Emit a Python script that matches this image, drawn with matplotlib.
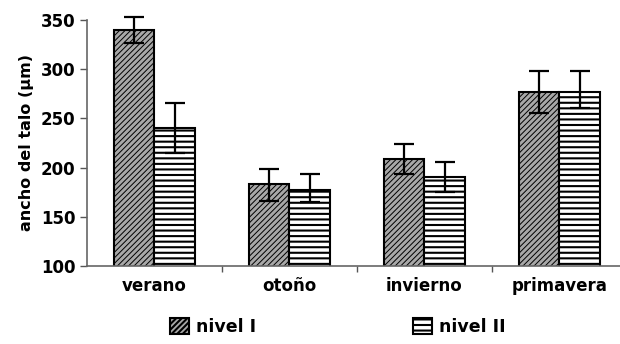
import numpy as np
import matplotlib.pyplot as plt

estaciones = ['verano', 'otoño', 'invierno', 'primavera']
nivel1 = [340, 183, 209, 277]
nivel1_sup = [353, 198, 224, 298]
nivel1_inf = [327, 166, 193, 255]
nivel2 = [240, 177, 190, 277]
nivel2_sup = [266, 193, 206, 298]
nivel2_inf = [215, 165, 175, 260]

x = np.arange(len(estaciones))
w = 0.3

fig = plt.figure(figsize=(6.2, 3.44), dpi=100)
ax = fig.add_axes([0.14, 0.227, 0.86, 0.715])

plt.rcParams['hatch.linewidth'] = 0.7
b1 = ax.bar(x - w/2, nivel1, w, color='#a8a8a8', edgecolor='black',
            linewidth=1.5, hatch='//////', label='nivel I', zorder=2)
plt.rcParams['hatch.linewidth'] = 1.5
b2 = ax.bar(x + w/2, nivel2, w, color='white', edgecolor='black',
            linewidth=1.5, hatch='---', label='nivel II', zorder=2)
for p in b1:
    if hasattr(p, 'set_hatch_linewidth'):
        p.set_hatch_linewidth(0.7)

for xs, v, lo, hi in [(x - w/2, nivel1, nivel1_inf, nivel1_sup),
                      (x + w/2, nivel2, nivel2_inf, nivel2_sup)]:
    v = np.array(v)
    err = [v - np.array(lo), np.array(hi) - v]
    eb = ax.errorbar(xs, v, yerr=err, fmt='none', ecolor='black', elinewidth=1.6,
                     capsize=7, capthick=1.6, zorder=3)
    for a in eb.lines[1] + eb.lines[2]:
        a.set_clip_on(False)

ax.set_ylim(100, 350)
ax.set_xlim(-0.5, 3.45)
ax.set_yticks(np.arange(100, 351, 50))
ax.set_xticks(x)
ax.set_xticklabels(estaciones, fontsize=12, fontweight='bold')
ax.set_xticks([0.5, 1.5, 2.5], minor=True)
ax.tick_params(axis='x', which='major', length=0, pad=8)
ax.tick_params(axis='x', which='minor', length=4, width=1, color='#555555')
ax.tick_params(axis='y', length=5, width=1, color='#555555', labelsize=12, pad=3)
for t in ax.get_yticklabels():
    t.set_fontweight('bold')
ax.set_ylabel('ancho del talo (µm)', fontsize=11.5, fontweight='bold', labelpad=5)

for s in ['top', 'right']:
    ax.spines[s].set_visible(False)
for s in ['left', 'bottom']:
    ax.spines[s].set_color('#666666')
    ax.spines[s].set_linewidth(1.2)

fig.legend(handles=[b1, b2], loc='center', bbox_to_anchor=(0.545, 0.05), ncol=2,
           frameon=False, prop={'weight': 'bold', 'size': 12.5},
           handlelength=1.1, handleheight=1.0, handletextpad=0.4,
           columnspacing=9)

plt.savefig('out.png', dpi=100)
